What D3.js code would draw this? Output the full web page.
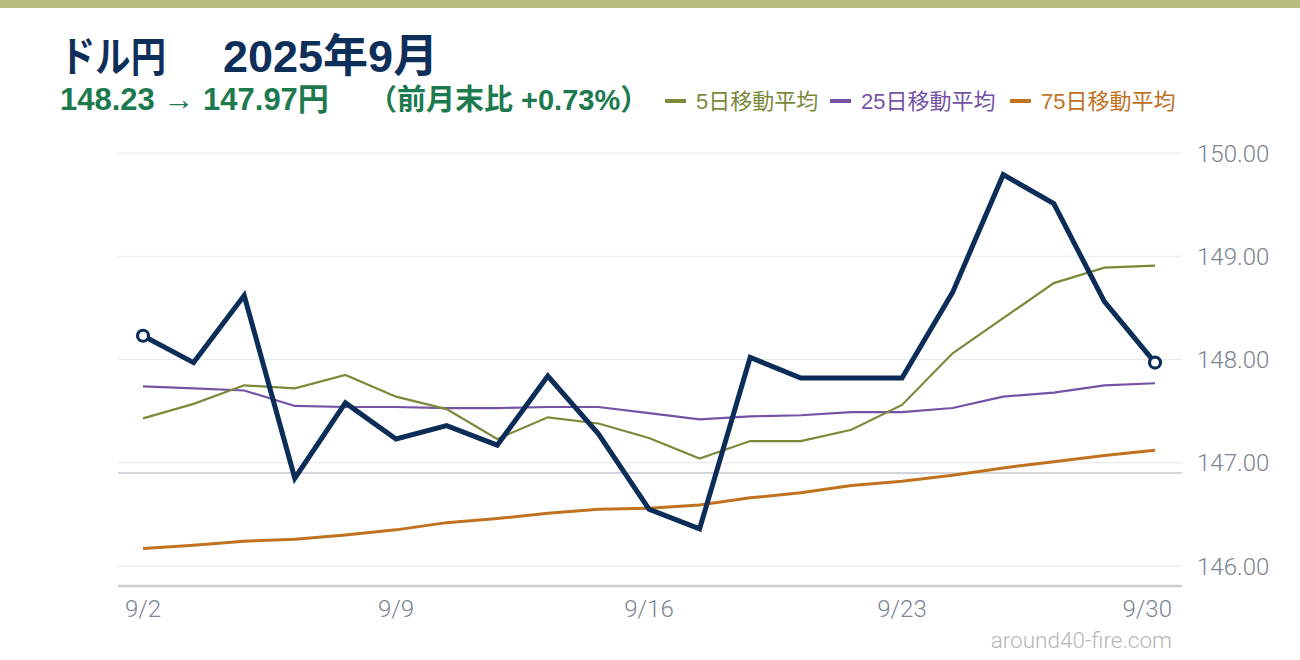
<!DOCTYPE html>
<html>
<head>
<meta charset="utf-8">
<script src="https://cdn.jsdelivr.net/npm/d3@7"></script>
<style>
  html, body { margin: 0; padding: 0; background: #fff; }
  svg { display: block; }
</style>
</head>
<body>
<svg id="chart" width="1300" height="660"></svg>
<script>
// ---- data ----
const dates = ["9/2","9/3","9/4","9/5","9/8","9/9","9/10","9/11","9/12","9/15","9/16","9/17","9/18","9/19","9/22","9/23","9/24","9/25","9/26","9/29","9/30"];
const closeValues = [148.23,147.97,148.62,146.85,147.58,147.23,147.36,147.17,147.84,147.28,146.55,146.36,148.02,147.82,147.82,147.82,148.65,149.79,149.51,148.56,147.97];
const ma5Values = [147.43,147.57,147.75,147.72,147.85,147.64,147.52,147.23,147.44,147.38,147.24,147.04,147.21,147.21,147.32,147.56,148.06,148.40,148.74,148.89,148.91];
const ma25Values = [147.74,147.72,147.70,147.55,147.54,147.54,147.53,147.53,147.54,147.54,147.48,147.42,147.45,147.46,147.49,147.49,147.53,147.64,147.68,147.75,147.77];
const ma75Values = [146.17,146.20,146.24,146.26,146.30,146.35,146.42,146.46,146.51,146.55,146.56,146.59,146.66,146.71,146.78,146.82,146.88,146.95,147.01,147.07,147.12];
const prevMonthEnd = 146.90;
const yTicks = [146, 147, 148, 149, 150];
const xTickLabels = ["9/2","9/9","9/16","9/23","9/30"];
const titleParts = ["ドル円", "2025年9月"];
const subtitleParts = ["148.23 → 147.97円", "（前月末比 +0.73%）"];
const legendItems = [
  { label: "5日移動平均", color: "#7b8a3a" },
  { label: "25日移動平均", color: "#7452a5" },
  { label: "75日移動平均", color: "#c0721f" }
];
const watermark = "around40-fire.com";

// ---- layout ----
const svg = d3.select("#chart");
const W = 1300, H = 660;
const plotLeft = 118, plotRight = 1182;
const x = d3.scalePoint().domain(dates).range([143, 1155]);
const y = d3.scaleLinear().domain([146, 150]).range([566, 153]);
const latinCJK = "'Liberation Sans', 'Noto Sans CJK JP', sans-serif";
const axisFont = "Roboto, 'Noto Sans', sans-serif";

// top band
svg.append("rect").attr("x", 0).attr("y", 0).attr("width", W).attr("height", 8).attr("fill", "#b8bc80");

// title
svg.append("text").attr("x", 60).attr("y", 72)
  .attr("font-family", latinCJK).attr("font-weight", 700).attr("font-size", 42)
  .attr("textLength", 106).attr("lengthAdjust", "spacingAndGlyphs")
  .attr("fill", "#0e2f5a").text(titleParts[0]);
svg.append("text").attr("x", 223).attr("y", 72)
  .attr("font-family", latinCJK).attr("font-weight", 700).attr("font-size", 45)
  .attr("fill", "#0e2f5a").text(titleParts[1]);

// subtitle
const sub = svg.append("text").attr("y", 110)
  .attr("font-family", latinCJK).attr("font-weight", 700)
  .attr("fill", "#1c7a4e");
sub.append("tspan").attr("x", 60).attr("font-size", 31).text(subtitleParts[0]);
sub.append("tspan").attr("x", 368).attr("font-size", 29).text(subtitleParts[1]);

// legend
const legendX = [665, 830, 1010];
legendItems.forEach((it, i) => {
  const g = svg.append("g").attr("transform", `translate(${legendX[i]},101)`);
  g.append("line").attr("x1", 0).attr("x2", 21).attr("y1", 0).attr("y2", 0)
    .attr("stroke", it.color).attr("stroke-width", 4);
  g.append("text").attr("x", 31).attr("y", 8)
    .attr("font-family", latinCJK).attr("font-size", 22).attr("fill", it.color).text(it.label);
});

// gridlines
svg.append("g").selectAll("line").data(yTicks).join("line")
  .attr("x1", plotLeft).attr("x2", plotRight)
  .attr("y1", d => y(d)).attr("y2", d => y(d))
  .attr("stroke", "#e6e8eb").attr("stroke-width", 1.2);

// y labels (right)
svg.append("g").selectAll("text").data(yTicks).join("text")
  .attr("x", 1197).attr("y", d => y(d)).attr("dy", "0.36em")
  .attr("font-family", axisFont).attr("font-weight", 300).attr("font-size", 24)
  .attr("fill", "#7b8491").text(d => d3.format(".2f")(d));

// bottom axis line
svg.append("line").attr("x1", plotLeft).attr("x2", plotRight)
  .attr("y1", y(146) + 20).attr("y2", y(146) + 20)
  .attr("stroke", "#c9ccd0").attr("stroke-width", 2.5);

// x labels
const xLabelRightLimit = 1172;
svg.append("g").selectAll("text").data(xTickLabels).join("text")
  .attr("y", 617)
  .attr("font-family", axisFont).attr("font-weight", 300).attr("font-size", 24)
  .attr("fill", "#7b8491").text(d => d)
  .each(function(d) {
    const t = d3.select(this);
    const w = this.getComputedTextLength();
    if (x(d) + w / 2 > xLabelRightLimit) {
      t.attr("x", xLabelRightLimit).attr("text-anchor", "end");
    } else {
      t.attr("x", x(d)).attr("text-anchor", "middle");
    }
  });

// previous month end reference line
svg.append("line").attr("x1", plotLeft).attr("x2", plotRight)
  .attr("y1", y(prevMonthEnd)).attr("y2", y(prevMonthEnd))
  .attr("stroke", "#c3c7cf").attr("stroke-width", 1.5);

function drawLine(values, color, width) {
  const line = d3.line().x((d, i) => x(dates[i])).y(d => y(d));
  svg.append("path").datum(values).attr("d", line)
    .attr("fill", "none").attr("stroke", color).attr("stroke-width", width)
    .attr("stroke-linejoin", "miter").attr("stroke-linecap", "butt");
}
drawLine(ma75Values, "#c0721f", 3);
drawLine(ma25Values, "#7452a5", 2.2);
drawLine(ma5Values, "#7b8a3a", 2.2);
drawLine(closeValues, "#0b2d58", 5);

// endpoint markers
const ends = [0, closeValues.length - 1];
svg.append("g").selectAll("circle").data(ends).join("circle")
  .attr("cx", i => x(dates[i])).attr("cy", i => y(closeValues[i])).attr("r", 5.5)
  .attr("fill", "#fff").attr("stroke", "#0b2d58").attr("stroke-width", 3.2);

// watermark
svg.append("text").attr("x", 1172).attr("y", 648).attr("text-anchor", "end")
  .attr("font-family", axisFont).attr("font-weight", 300).attr("font-size", 22.5)
  .attr("fill", "#b3b7bc").text(watermark);
</script>
</body>
</html>
